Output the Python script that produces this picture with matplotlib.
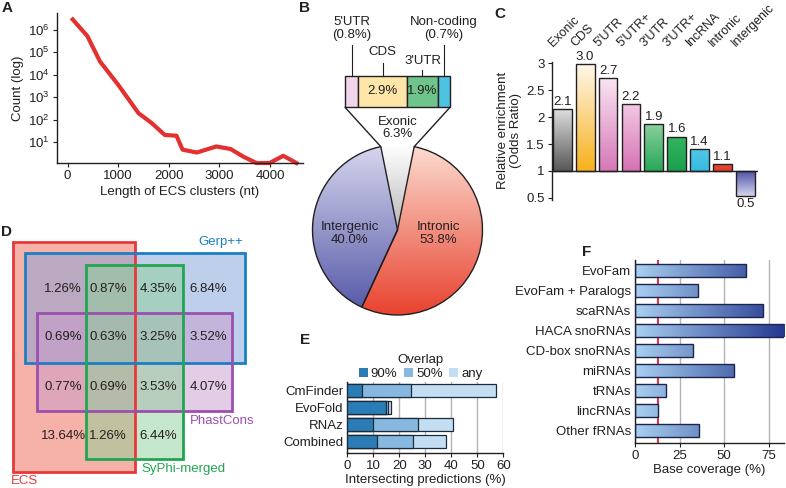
import numpy as np
import matplotlib
matplotlib.use("Agg")
import matplotlib.pyplot as plt
from matplotlib.patches import Rectangle, Patch, ConnectionPatch
from matplotlib.colors import LinearSegmentedColormap

W, H = 786, 488
INK = "#231f20"

plt.rcParams.update({
    "font.family": ["Liberation Sans", "DejaVu Sans"],
    "font.size": 9,
    "text.color": INK,
    "axes.edgecolor": INK,
    "axes.labelcolor": INK,
    "xtick.color": INK,
    "ytick.color": INK,
    "axes.linewidth": 1.0,
    "xtick.major.size": 3,
    "ytick.major.size": 3,
    "xtick.major.pad": 2,
    "ytick.major.pad": 2,
    "mathtext.default": "regular",
})

# ---- A: length distribution of ECS clusters
ecs_len = [100, 390, 640, 1000, 1400, 1660, 1920, 2150, 2270, 2550, 2940,
           3220, 3470, 3730, 3990, 4260, 4520]
ecs_count = [2.8e6, 5.1e5, 3.8e4, 3.5e3, 195, 71, 21, 19.5, 4.7, 3.5, 6.5,
             5.0, 2.3, 1.2, 1.2, 2.5, 1.2]

# ---- B: genomic distribution
region_names = ["Exonic", "Intronic", "Intergenic"]
region_pct = [6.3, 53.8, 40.0]
exon_parts = ["5'UTR", "CDS", "3'UTR", "Non-coding"]
exon_pct = [0.8, 2.9, 1.9, 0.7]

# ---- C: enrichment
enrich_cats = ["Exonic", "CDS", "5'UTR", "5'UTR+", "3'UTR", "3'UTR+",
               "lncRNA", "Intronic", "Intergenic"]
enrich_vals = [2.15, 2.98, 2.73, 2.24, 1.88, 1.64, 1.40, 1.13, 0.53]
enrich_text = ["2.1", "3.0", "2.7", "2.2", "1.9", "1.6", "1.4", "1.1", "0.5"]

# ---- D: overlap with conservation tracks
venn_rows = [["1.26%", "0.87%", "4.35%", "6.84%"],
             ["0.69%", "0.63%", "3.25%", "3.52%"],
             ["0.77%", "0.69%", "3.53%", "4.07%"],
             ["13.64%", "1.26%", "6.44%", ""]]

# ---- E: overlap with other predictions
tools = ["CmFinder", "EvoFold", "RNAz", "Combined"]
ov_90 = [5.5, 14.7, 9.7, 11.3]
ov_50 = [24.5, 15.8, 27.1, 25.4]
ov_any = [57.2, 16.8, 40.8, 38.0]

# ---- F: coverage of known ncRNAs
rna_classes = ["EvoFam", "EvoFam + Paralogs", "scaRNAs", "HACA snoRNAs",
               "CD-box snoRNAs", "miRNAs", "tRNAs", "lincRNAs", "Other fRNAs"]
coverage = [62.0, 35.4, 71.8, 84.0, 32.6, 55.4, 17.2, 13.0, 36.0]
background_cov = 13.0

fig = plt.figure(figsize=(W / 100, H / 100), dpi=100)


def px_axes(l, t, r, b, **kw):
    return fig.add_axes([l / W, 1 - b / H, (r - l) / W, (b - t) / H], **kw)


def gradient(ax, clip, extent, c0, c1, horizontal=False, span=(0, 1), z=2.5):
    cmap = LinearSegmentedColormap.from_list("", [c0, c1])
    ramp = np.linspace(span[0], span[1], 128)
    arr = ramp.reshape(1, -1) if horizontal else ramp.reshape(-1, 1)
    im = ax.imshow(arr, cmap=cmap, vmin=0, vmax=1, extent=extent, origin="upper",
                   aspect="auto", interpolation="bilinear", zorder=z)
    im.set_clip_path(clip)


def clean(ax, keep=("left", "bottom")):
    for s in ("top", "right", "left", "bottom"):
        ax.spines[s].set_visible(s in keep)


# ================= A
axA = px_axes(57, 13, 303, 163)
axA.plot(ecs_len, ecs_count, color="#e3312f", lw=3, solid_joinstyle="round",
         clip_on=False)
axA.set_yscale("log")
axA.set_ylim(1.2, 5.4e6)
axA.set_xlim(-210, 4650)
axA.set_yticks([1e1, 1e2, 1e3, 1e4, 1e5, 1e6])
axA.yaxis.set_minor_locator(matplotlib.ticker.NullLocator())
axA.set_xticks([0, 1000, 2000, 3000, 4000])
axA.tick_params(labelsize=9.5)
axA.set_xlabel("Length of ECS clusters (nt)", fontsize=9.5, labelpad=3)
axA.set_ylabel("Count (log)", fontsize=9.5, labelpad=3)
clean(axA)

# ================= B
axP = px_axes(312.5, 145, 482.5, 315)
start = 90 + 360 * region_pct[0] / sum(region_pct) / 2
wedges, _ = axP.pie(region_pct, startangle=start, counterclock=False, radius=1,
                    wedgeprops=dict(edgecolor=INK, linewidth=1, clip_on=False))
pie_grad = [("#ffffff", "#b8b8b8", (-0.3, 0.3, 0, 1)),
            ("#fcdcd0", "#e8432f", (-1, 1, -1, 1)),
            ("#d6d6ee", "#5356a6", (-1, 1, -1, 1))]
for w, (c0, c1, ext) in zip(wedges, pie_grad):
    gradient(axP, w, ext, c0, c1, z=0.9)
    w.set_facecolor("none")
wedges[0].set_edgecolor("none")
axP.set_xlim(-1, 1)
axP.set_ylim(-1, 1)
axP.set_aspect("equal")
axP.axis("off")
axP.text(0.0, 1.2, "Exonic\n6.3%", ha="center", va="center", fontsize=9.5,
         linespacing=1.1)
axP.text(-0.56, -0.04, "Intergenic\n40.0%", ha="center", va="center",
         fontsize=9.5, linespacing=1.1)
axP.text(0.48, -0.04, "Intronic\n53.8%", ha="center", va="center",
         fontsize=9.5, linespacing=1.1)

axB = px_axes(345, 75.7, 450, 107.3)
seg_colors = ["#f1d5eb", "#fde6a8", "#6ec48b", "#4ec3e1"]
lefts = np.concatenate([[0], np.cumsum(exon_pct)[:-1]])
axB.barh(0, exon_pct, left=lefts, height=1, color=seg_colors, edgecolor=INK,
         lw=1, clip_on=False)
axB.set_xlim(0, sum(exon_pct))
axB.set_ylim(-0.5, 0.5)
axB.axis("off")
# leader lines + labels above the exonic breakdown
lead_top = [1.47, 0.9, 0.68, 1.47]
lab_y = [1.98, 1.26, 0.97, 1.98]
lab_txt = ["5'UTR\n(0.8%)", "CDS", "3'UTR", "Non-coding\n(0.7%)"]
for lf, v, lt, ly, t in zip(lefts, exon_pct, lead_top, lab_y, lab_txt):
    cx = lf + v / 2
    axB.plot([cx, cx], [0.5, lt], color=INK, lw=0.8, clip_on=False)
    axB.text(cx, ly, t, ha="center", va="center", fontsize=9.5, linespacing=1.1)
    if v >= 1:
        axB.text(cx, 0, "{:.1f}%".format(v), ha="center", va="center",
                 fontsize=9.5)
ex = wedges[0]
for ang, bx in ((ex.theta2, 0), (ex.theta1, sum(exon_pct))):
    a = np.deg2rad(ang)
    con = ConnectionPatch(xyA=(np.cos(a), np.sin(a)), coordsA=axP.transData,
                          xyB=(bx, -0.5), coordsB=axB.transData, color=INK, lw=1)
    fig.add_artist(con)

# ================= C
axC = px_axes(551.7, 61.7, 758, 200)
bar_grad = [("#dedede", "#575757"), ("#fff7ea", "#f7b11c"),
            ("#fae6f2", "#d678b7"), ("#f3c8e2", "#d571b3"),
            ("#8bd19c", "#28a75a"), ("#33b55f", "#1c9f4d"),
            ("#52c7e8", "#35bbe0"), ("#ea4a36", "#e2392a"),
            ("#4a4ea3", "#d4d5ef")]
pos = np.arange(len(enrich_cats))
bars = axC.bar(pos, np.array(enrich_vals) - 1, bottom=1, width=0.82,
               edgecolor=INK, lw=1, zorder=3, clip_on=False)
for r, (c0, c1) in zip(bars, bar_grad):
    y0, y1 = sorted([r.get_y(), r.get_y() + r.get_height()])
    gradient(axC, r, (r.get_x(), r.get_x() + r.get_width(), y0, y1), c0, c1)
    r.set_facecolor("none")
for i, (v, t) in enumerate(zip(enrich_vals, enrich_text)):
    if v >= 1:
        axC.text(i, v + 0.02, t, ha="center", va="bottom", fontsize=9.5)
    else:
        axC.text(i, v - 0.04, t, ha="center", va="top", fontsize=9.5)
    axC.text(i - 0.32, 3.27, enrich_cats[i], rotation=45, ha="left",
             va="bottom", rotation_mode="anchor", fontsize=9)
axC.axhline(1, color=INK, lw=1, zorder=4)
axC.set_xlim(-0.46, 8.55)
axC.set_ylim(0.46, 3.03)
axC.set_xticks([])
axC.set_yticks([0.5, 1, 1.5, 2, 2.5, 3])
axC.set_yticklabels(["0.5", "1", "1.5", "2", "2.5", "3"], fontsize=9.5)
axC.set_ylabel("Relative enrichment\n(Odds Ratio)", fontsize=9.5, labelpad=3,
               linespacing=1.1)
clean(axC, keep=("left",))

# ================= E
axE = px_axes(347.3, 381.7, 503.3, 453.3)
ypos = np.arange(len(tools))
e_cols = {"any": "#c3def3", "50%": "#87b8df", "90%": "#2b7bb4"}
for vals, key, z in ((ov_any, "any", 3), (ov_50, "50%", 4), (ov_90, "90%", 5)):
    axE.barh(ypos, vals, height=0.78, color=e_cols[key], edgecolor="#1c2b3a",
             lw=0.9, zorder=z)
axE.set_xlim(0, 60)
axE.set_ylim(3.68, -0.53)
axE.set_xticks([0, 10, 20, 30, 40, 50, 60])
axE.set_yticks(ypos)
axE.set_yticklabels(tools)
axE.tick_params(axis="y", length=0, pad=3, labelsize=9.5)
axE.tick_params(axis="x", labelsize=9.5)
axE.xaxis.grid(True, color="#b3b3b3", lw=1)
axE.set_axisbelow(True)
axE.set_xlabel("Intersecting predictions (%)", fontsize=9.5, labelpad=1)
clean(axE)
handles = [Patch(facecolor=e_cols[k], edgecolor="none") for k in ("90%", "50%", "any")]
axE.legend(handles, ["90%", "50%", "any"], title="Overlap", ncol=3,
           loc="lower center", bbox_to_anchor=(0.47, 0.98), frameon=False,
           handlelength=0.7, handleheight=0.7, handletextpad=0.2,
           columnspacing=0.5, borderaxespad=0.1, fontsize=9.5,
           title_fontsize=9.5, borderpad=0.1, labelspacing=0.2)

# ================= F
axF = px_axes(635, 260, 784, 442.7)
XMAX = 83.5
fpos = np.arange(len(rna_classes))
fb = axF.barh(fpos, coverage, height=0.65, edgecolor="#1c234d", lw=1, zorder=3)
for r in fb:
    w = r.get_width()
    y0 = r.get_y()
    gradient(axF, r, (0, w, y0 + r.get_height(), y0), "#a9d0f0", "#24398f",
             horizontal=True, span=(0, w / XMAX))
    r.set_facecolor("none")
axF.axvline(background_cov, color="#e0344b", lw=1.5, zorder=1)
axF.set_xlim(0, XMAX)
axF.set_ylim(8.59, -0.5)
axF.set_xticks([0, 25, 50, 75])
axF.set_yticks(fpos)
axF.set_yticklabels(rna_classes)
axF.tick_params(axis="y", length=0, pad=3, labelsize=9.5)
axF.tick_params(axis="x", labelsize=9.5)
axF.xaxis.grid(True, color="#b3b3b3", lw=1)
axF.set_axisbelow(True)
axF.set_xlabel("Base coverage (%)", fontsize=9.5, labelpad=2)
clean(axF)

# ================= overlay: Venn (D) and panel letters
ov = fig.add_axes([0, 0, 1, 1], zorder=10)
ov.set_xlim(0, W)
ov.set_ylim(H, 0)
ov.axis("off")

venn_sets = [  # name, (x0, y0, x1, y1), fill, edge, label pos
    ("ECS", (13.3, 241.7, 135, 471.7), "#ef6753", "#e8383a", (25, 481)),
    ("Gerp++", (25, 253.3, 245, 363.3), "#7fa1d9", "#1b80c3", (221, 242.5)),
    ("PhastCons", (37.3, 313.3, 232.3, 411), "#c99bcd", "#9b4fae", (222, 420.5)),
    ("SyPhi-merged", (86, 265, 183.3, 459.3), "#8dd199", "#22a552", (183, 469)),
]
for name, (x0, y0, x1, y1), fill, edge, (lx, ly) in venn_sets:
    ov.add_patch(Rectangle((x0, y0), x1 - x0, y1 - y0, facecolor=fill,
                           alpha=0.5, edgecolor="none", zorder=1))
for name, (x0, y0, x1, y1), fill, edge, (lx, ly) in venn_sets:
    ov.add_patch(Rectangle((x0, y0), x1 - x0, y1 - y0, facecolor="none",
                           edgecolor=edge, lw=2, zorder=2))
    ov.text(lx, ly, name, color=edge, ha="center", va="center", fontsize=9.5)

col_x = [63.3, 108.3, 158.3, 208.3]
row_y = [289.3, 337.3, 386.7, 436]
for ry, row in zip(row_y, venn_rows):
    for cx, t in zip(col_x, row):
        ov.text(cx, ry, t, ha="center", va="center", fontsize=9.5, zorder=3)

for letter, (lx, ly) in zip("ABCDEF", [(6.7, 8.5), (305, 8.5), (500, 13.5),
                                       (6.7, 231.7), (305, 340), (587, 252)]):
    ov.text(lx, ly, letter, ha="center", va="center", fontsize=11,
            fontweight="bold")

fig.savefig("out.png", dpi=100)
